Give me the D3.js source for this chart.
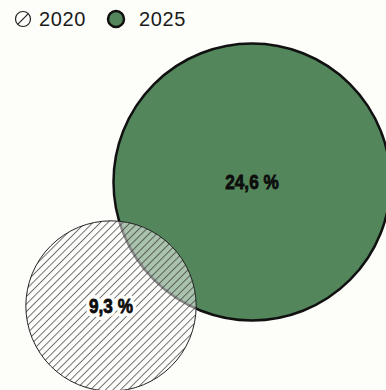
<!DOCTYPE html>
<html>
<head>
<meta charset="utf-8">
<script src="https://cdn.jsdelivr.net/npm/d3@7"></script>
<style>
    html, body { margin: 0; padding: 0; background: #fdfdfa; }
    #chart { width: 386px; height: 390px; overflow: hidden; }
    .legend-label { font-family: "Liberation Sans", Arial, sans-serif; font-size: 20px; fill: #1a1a1a; letter-spacing: 0.6px; }
    .value-label {
        font-family: "Liberation Sans", Arial, sans-serif;
        font-weight: 700; font-size: 20px;
    }
</style>
</head>
<body>
<div id="chart"></div>
<script>
const years = ['2020', '2025'];
const shares = [9.3, 24.6];
const labels = ['9,3 %', '24,6 %'];

const width = 386;
const height = 390;
const green = '#54865c';
const bg = '#fdfdfa';

const svg = d3.select('#chart').append('svg')
    .attr('width', width)
    .attr('height', height);

const defs = svg.append('defs');
const hatch = defs.append('pattern')
    .attr('id', 'hatch')
    .attr('patternUnits', 'userSpaceOnUse')
    .attr('width', 5.3)
    .attr('height', 5.3)
    .attr('patternTransform', 'rotate(45)');
hatch.append('rect').attr('width', 5.3).attr('height', 5.3).attr('fill', 'rgba(255,255,255,0.5)');
hatch.append('line')
    .attr('x1', 0.5).attr('y1', 0).attr('x2', 0.5).attr('y2', 5.3)
    .attr('stroke', '#333').attr('stroke-width', 0.7);

// radius ~ sqrt(value), so areas compare
const r = d3.scaleSqrt().domain([0, d3.max(shares)]).range([0, 138.5]);

// layout of the two circles (centre positions)
const centres = [[111, 306], [252, 182]];

const data = years.map((y, i) => ({ year: y, value: shares[i], label: labels[i], c: centres[i] }));

// big circle first, hatched one on top
svg.append('circle')
    .attr('cx', data[1].c[0]).attr('cy', data[1].c[1])
    .attr('r', r(data[1].value))
    .attr('fill', green)
    .attr('stroke', '#111').attr('stroke-width', 2.5);

svg.append('circle')
    .attr('cx', data[0].c[0]).attr('cy', data[0].c[1])
    .attr('r', r(data[0].value))
    .attr('fill', 'url(#hatch)')
    .attr('stroke', '#222').attr('stroke-width', 1);

// labels: condensed look by squeezing the text horizontally
const lab = svg.selectAll('g.value')
    .data(data)
    .enter().append('g')
    .attr('class', 'value')
    .attr('transform', d => `translate(${d.c[0]},${d.c[1]}) scale(0.86,1)`);

lab.filter((d, i) => i === 0).append('text')
    .attr('class', 'value-label')
    .attr('dy', '0.36em')
    .attr('text-anchor', 'middle')
    .attr('fill', bg)
    .attr('stroke', bg)
    .attr('stroke-width', 8)
    .attr('stroke-linejoin', 'round')
    .text(d => d.label);

lab.append('text')
    .attr('class', 'value-label')
    .attr('dy', '0.36em')
    .attr('text-anchor', 'middle')
    .attr('fill', '#0d0d0d')
    .attr('stroke', '#0d0d0d')
    .attr('stroke-width', 0.8)
    .text(d => d.label);

// legend
const lg = svg.append('g');
lg.append('circle').attr('cx', 23).attr('cy', 19).attr('r', 7.5)
    .attr('fill', 'none').attr('stroke', '#222').attr('stroke-width', 1.2);
lg.append('line')
    .attr('x1', 23 + 5.3).attr('y1', 19 - 5.3).attr('x2', 23 - 5.3).attr('y2', 19 + 5.3)
    .attr('stroke', '#222').attr('stroke-width', 1.2);
lg.append('text').attr('class', 'legend-label').attr('x', 39).attr('y', 26).text(years[0]);

lg.append('circle').attr('cx', 116).attr('cy', 19).attr('r', 8)
    .attr('fill', green).attr('stroke', '#111').attr('stroke-width', 2.5);
lg.append('text').attr('class', 'legend-label').attr('x', 139).attr('y', 26).text(years[1]);
</script>
</body>
</html>
